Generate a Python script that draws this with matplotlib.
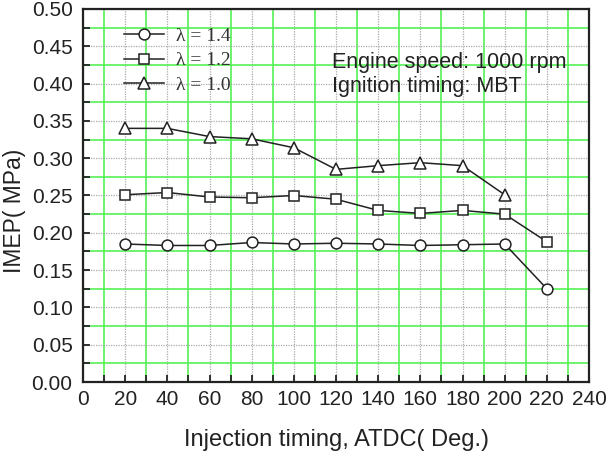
import matplotlib
matplotlib.use("Agg")
import matplotlib.pyplot as plt
from matplotlib.ticker import MultipleLocator, FormatStrFormatter

plt.rcParams["font.family"] = ["Liberation Sans", "DejaVu Sans"]

x14 = [20, 40, 60, 80, 100, 120, 140, 160, 180, 200, 220]
y14 = [0.185, 0.183, 0.183, 0.187, 0.185, 0.186, 0.185, 0.183, 0.184, 0.185, 0.125]
x12 = [20, 40, 60, 80, 100, 120, 140, 160, 180, 200, 220]
y12 = [0.251, 0.254, 0.248, 0.247, 0.250, 0.245, 0.230, 0.226, 0.230, 0.225, 0.188]
x10 = [20, 40, 60, 80, 100, 120, 140, 160, 180, 200]
y10 = [0.340, 0.340, 0.329, 0.326, 0.314, 0.285, 0.290, 0.294, 0.290, 0.251]
labels = ["λ = 1.4", "λ = 1.2", "λ = 1.0"]

fig = plt.figure(figsize=(6.09, 4.58), dpi=100)
ax = fig.add_axes([83/609, 1-382/458, (589-83)/609, (382-9)/458])

mk = dict(color="#222222", lw=1.1, markerfacecolor="white", markeredgecolor="#222222",
          markeredgewidth=1.1)
ax.plot(x14, y14, marker="o", markersize=7.8, label=labels[0], **mk)
ax.plot(x12, y12, marker="s", markersize=7.5, label=labels[1], **mk)
ax.plot(x10, y10, marker="^", markersize=9.0, label=labels[2], **mk)

ax.set_xlim(0, 240)
ax.set_ylim(0, 0.5)
ax.xaxis.set_major_locator(MultipleLocator(20))
ax.xaxis.set_minor_locator(MultipleLocator(10))
ax.yaxis.set_major_locator(MultipleLocator(0.05))
ax.yaxis.set_minor_locator(MultipleLocator(0.025))
ax.yaxis.set_major_formatter(FormatStrFormatter("%.2f"))
ax.grid(which="major", color="#aaaaaa", linestyle=(0, (1, 1)), linewidth=0.9)
ax.grid(which="minor", color="#55f055", linestyle="-", linewidth=1.2)
ax.set_axisbelow(True)
ax.tick_params(which="both", direction="in", top=False, right=False,
               labelsize=15, colors="#222222", length=5, width=1.3)
ax.tick_params(axis="x", pad=6)
ax.tick_params(axis="y", pad=7.5)
for s in ax.spines.values():
    s.set_linewidth(1.6)
    s.set_color("#222222")

ax.set_xlabel("Injection timing, ATDC( Deg.)", fontsize=17, labelpad=14, color="#222222")
ax.set_ylabel("IMEP( MPa)", fontsize=16.5, labelpad=4, color="#222222")
ax.yaxis.label.set_y(0.46)

leg = ax.legend(loc="upper left", bbox_to_anchor=(0.047, 0.998), frameon=False,
                prop={"family": "Liberation Serif", "size": 14}, handlelength=2.05,
                labelspacing=0.36, handletextpad=0.6, labelcolor="#333333")
ax.text(118, 0.389, "Engine speed: 1000 rpm\nIgnition timing: MBT", fontsize=15.5,
        va="baseline", ha="left", linespacing=1.16, color="#222222")

fig.savefig("out.png", dpi=100)
